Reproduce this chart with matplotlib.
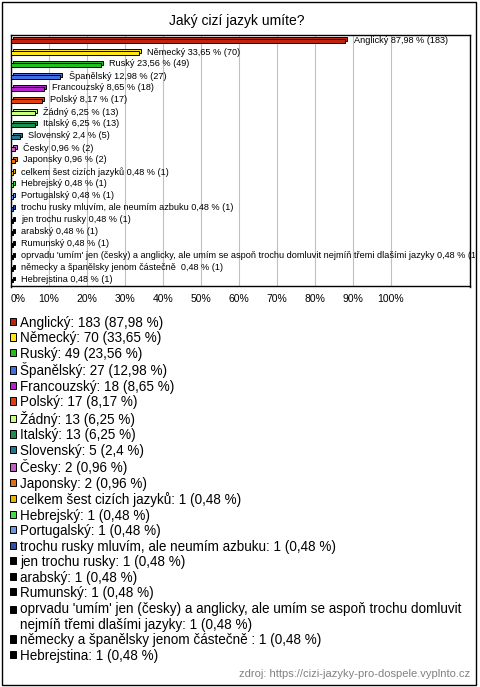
import matplotlib
matplotlib.use('Agg')
import matplotlib.pyplot as plt
import matplotlib.patches as mpatches
from matplotlib.legend_handler import HandlerPatch
from matplotlib.transforms import ScaledTranslation, Bbox, TransformedBbox

plt.rcParams['font.family'] = ['Liberation Sans', 'DejaVu Sans']

title = 'Jaký cizí jazyk umíte?'
source = 'zdroj: https://cizi-jazyky-pro-dospele.vyplnto.cz'

languages = [
    'Anglický', 'Německý', 'Ruský', 'Španělský', 'Francouzský', 'Polský',
    'Žádný', 'Italský', 'Slovenský', 'Česky', 'Japonsky',
    'celkem šest cizích jazyků', 'Hebrejský', 'Portugalský',
    'trochu rusky mluvím, ale neumím azbuku', 'jen trochu rusky', 'arabský',
    'Rumunský',
    "oprvadu 'umím' jen (česky) a anglicky, ale umím se aspoň trochu domluvit nejmíň třemi dlašími jazyky",
    'německy a španělsky jenom částečně ', 'Hebrejstina',
]
counts = [183, 70, 49, 27, 18, 17, 13, 13, 5, 2, 2,
          1, 1, 1, 1, 1, 1, 1, 1, 1, 1]
percents = [87.98, 33.65, 23.56, 12.98, 8.65, 8.17, 6.25, 6.25, 2.4, 0.96, 0.96,
            0.48, 0.48, 0.48, 0.48, 0.48, 0.48, 0.48, 0.48, 0.48, 0.48]
colors = ['#c0230f', '#ffe619', '#1fbf1f', '#3f6fe0', '#b620d0', '#e0400f',
          '#c8ff80', '#1a9050', '#207890', '#c060c0', '#e07010',
          '#e8b400', '#40e040', '#6b98e0', '#2f50b0', '#000000', '#000000',
          '#000000', '#000000', '#000000', '#000000']
xticks = [0, 10, 20, 30, 40, 50, 60, 70, 80, 90, 100]
xticklabels = ['%d%%' % t for t in xticks]


def fmt_pct(p):
    return '{:g}'.format(p).replace('.', ',')


W, H = 480, 687
fig = plt.figure(figsize=(W / 100, H / 100), dpi=100)

# outer frame
fig.patches.append(mpatches.Rectangle((2 / W, 2 / H), 474 / W, 683 / H,
                                      transform=fig.transFigure, fill=False,
                                      edgecolor='black', linewidth=1))

fig.text(237 / W, 1 - 21 / H, title, ha='center', va='center', fontsize=10)

ax = fig.add_axes([11 / W, 1 - 286.5 / H, 459 / W, 251.5 / H])
ypos = list(range(len(languages)))

# 3D look: back face shifted up/right, front face on top
shift = ax.transData + ScaledTranslation(2 / 100, 2 / 100, fig.dpi_scale_trans)
ax.barh(ypos, percents, height=0.33, color=colors, edgecolor='black',
        linewidth=0.7, transform=shift, zorder=2)
ax.barh(ypos, percents, height=0.33, color=colors, edgecolor='black',
        linewidth=0.7, zorder=3)

clip = TransformedBbox(Bbox([[0, 0], [475 / W, 1]]), fig.transFigure)
for y, name, p, c in zip(ypos, languages, percents, counts):
    t = ax.annotate('%s %s %% (%d)' % (name, fmt_pct(p), c), xy=(p, y - 0.08),
                    xytext=(6, 0), textcoords='offset points',
                    ha='left', va='center', fontsize=6.6, zorder=4,
                    annotation_clip=False)
    t.set_clip_on(True)
    t.set_clip_box(clip)

ax.set_xlim(0, 120.8)
ax.set_ylim(len(languages) - 0.5, -0.5)
ax.set_xticks(xticks)
ax.set_xticklabels(xticklabels, fontsize=7.5)
ax.get_xticklabels()[0].set_ha('left')
ax.set_yticks([])
ax.tick_params(axis='x', length=0, pad=5.5)
ax.xaxis.grid(True, color='#c0c0c0', linewidth=0.8)
ax.set_axisbelow(True)
for s in ax.spines.values():
    s.set_color('black')
    s.set_linewidth(1)

# legend
leg_fs = 9.75


def square(legend, orig_handle, xdescent, ydescent, width, height, fontsize):
    return mpatches.Rectangle((-xdescent, -ydescent + 0.5), width, height)


def raised_square(legend, orig_handle, xdescent, ydescent, width, height, fontsize):
    # two-line entry: keep the marker next to the first line
    return mpatches.Rectangle((-xdescent, -ydescent + 0.5 + 0.53 * fontsize),
                              width, height)


handles = [mpatches.Patch(facecolor=c, edgecolor='black', linewidth=0.7)
           for c in colors]
labels = []
hmap = {}
for h, name, p, c in zip(handles, languages, percents, counts):
    if len(name) > 80:
        name = name.replace(' domluvit ', ' domluvit\n')
        hmap[h] = HandlerPatch(patch_func=raised_square)
    else:
        hmap[h] = HandlerPatch(patch_func=square)
    labels.append('%s: %d (%s %%)' % (name, c, fmt_pct(p)))
fig.legend(handles, labels, loc='upper left', bbox_to_anchor=(10 / W, 1 - 316 / H),
           frameon=False, fontsize=leg_fs, handlelength=0.45, handleheight=0.45,
           handletextpad=0.3, labelspacing=0.11, borderpad=0, borderaxespad=0,
           handler_map=hmap)

fig.text(470 / W, 1 - 674 / H, source, ha='right', va='center', fontsize=8,
         color='#808080')

fig.savefig('out.png', dpi=100)
